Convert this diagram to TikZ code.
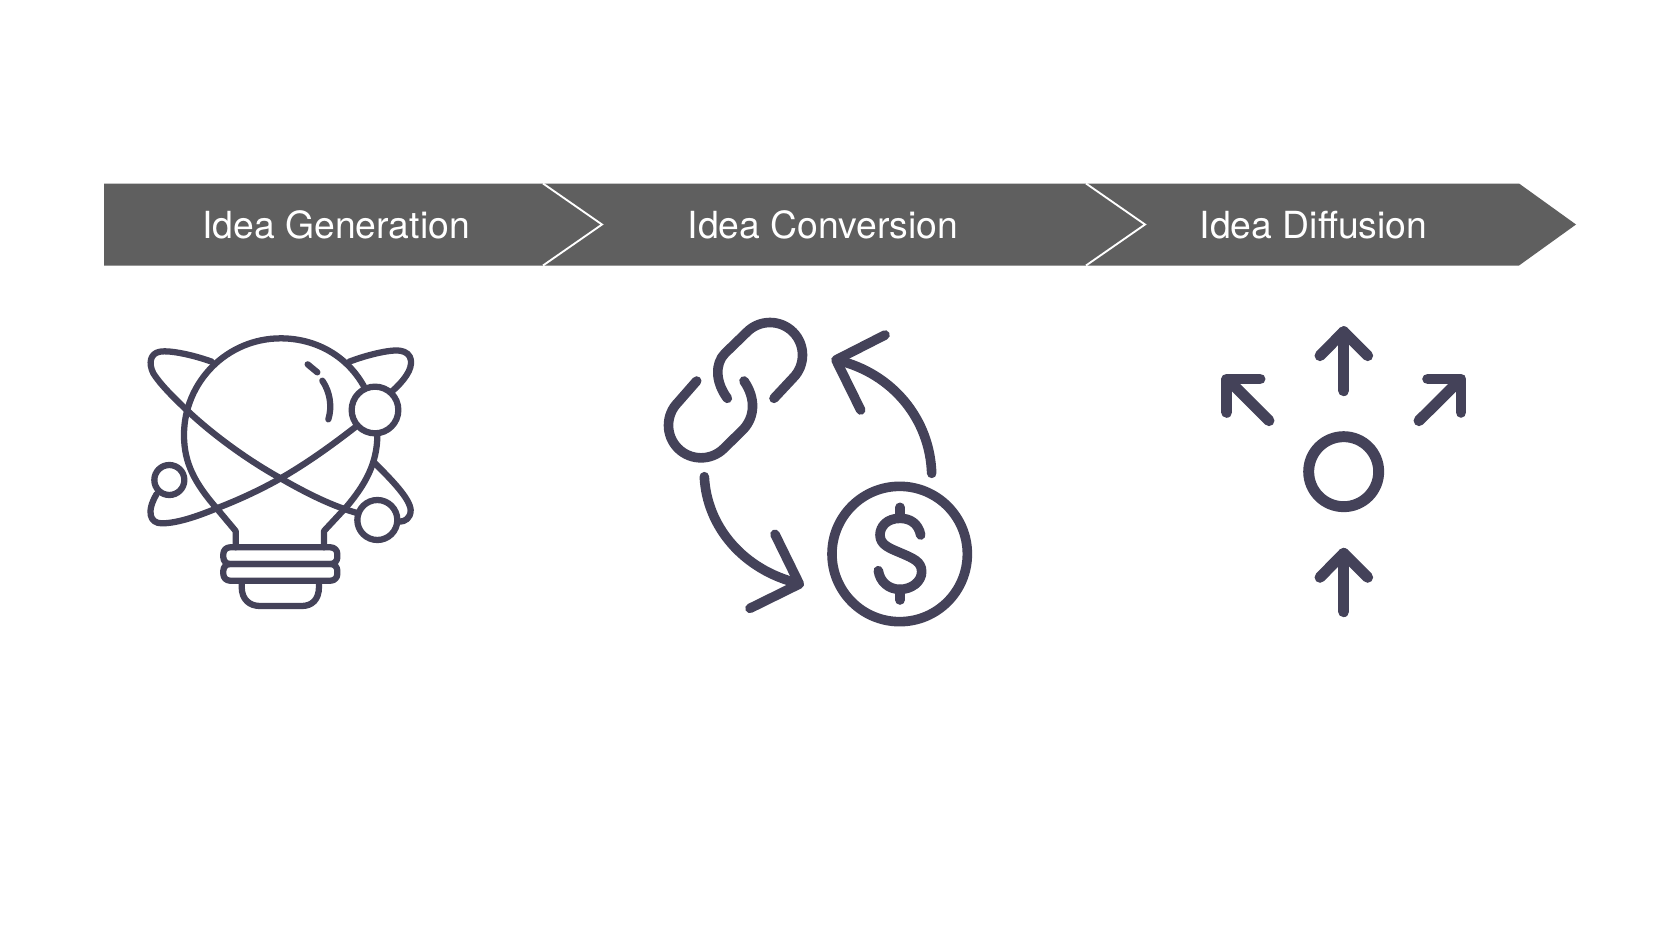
\documentclass[tikz,border=0pt]{standalone}
\usepackage{fontspec}
\setmainfont{TeX Gyre Heros}
\definecolor{iconc}{HTML}{444259}
\definecolor{bannerc}{HTML}{5F5F5F}
\tikzset{
  bar/.style={fill=bannerc,draw=none},
  sep/.style={draw=white,line width=1.4pt,line cap=butt,miter limit=10},
  lab/.style={text=white,font=\fontsize{28pt}{30pt}\selectfont,anchor=base,inner sep=0pt},
  ic/.style={draw=iconc,line cap=round,line join=round},
  zoomed/.style={x=.25pt,y=-.25pt},
}
\begin{document}
\begin{tikzpicture}[x=.75pt,y=-.75pt]
\useasboundingbox (0,0) rectangle (1680,945);
\fill[white] (0,0) rectangle (1680,945);
% banner
\path[bar] (104,183.5) -- (1519,183.5) -- (1576,224.5) -- (1519,265.5) -- (104,265.5) -- cycle;
\draw[sep] (543,183.5) -- (602,224.5) -- (543,265.5);
\draw[sep] (1086,183.5) -- (1145,224.5) -- (1086,265.5);
\node[lab] (gen) at (336,238) {Idea Generation};
\node[lab] (con) at (823,238) {Idea Conversion};
\node[lab] (dif) at (1313.5,238) {Idea Diffusion};
% light bulb
\begin{scope}[shift={(120,310)},zoomed,ic,line width=4.7pt]
  \draw (347,712) -- (347,663) -- (290,595) .. controls (225,520) and (192,460) .. (192,375)
        .. controls (192,215) and (322,85) .. (482,85) .. controls (590,85) and (685,140) .. (735,235);
  \draw (772,375) .. controls (772,460) and (735,525) .. (680,590) -- (612,663) -- (612,712);
  \draw[rounded corners=5pt] (310,712) rectangle (652,762);
  \draw[rounded corners=5pt] (310,762) rectangle (652,812);
  \draw (365,815) -- (365,830) .. controls (365,870) and (390,888) .. (420,888) -- (545,888)
        .. controls (575,888) and (597,870) .. (597,830) -- (597,815);
  \draw (563,163) -- (592,187);
  \draw (607,212) .. controls (630,245) and (637,290) .. (625,328);
  \draw (275,155) .. controls (220,135) and (150,120) .. (120,125) .. controls (90,130) and (85,160) .. (100,190)
        .. controls (120,222) and (160,262) .. (200,300) .. controls (290,385) and (400,460) .. (482,505)
        .. controls (560,550) and (640,590) .. (715,610);
  \draw (765,460) .. controls (810,505) and (870,565) .. (872,600) .. controls (872,625) and (855,635) .. (838,635);
  \draw (688,155) .. controls (740,135) and (810,118) .. (840,122) .. controls (880,128) and (880,165) .. (860,195)
        .. controls (847,215) and (832,230) .. (815,245);
  \draw (705,352) .. controls (630,410) and (560,460) .. (482,505) .. controls (420,540) and (355,570) .. (290,595)
        .. controls (230,620) and (170,640) .. (125,640) .. controls (90,640) and (78,605) .. (110,552);
  \draw (765,300) circle[radius=70];
  \draw (148,510) circle[radius=45];
  \draw (772,630) circle[radius=60];
\end{scope}
% link, arrows, coin
\begin{scope}[shift={(650,300)},zoomed,ic,line width=7.2pt]
  \draw (232,295) .. controls (195,245) and (195,190) .. (225,160) -- (291,96)
        .. controls (329,58) and (391,58) .. (429,96) .. controls (467,134) and (467,196) .. (429,234) -- (372,295);
  \draw (140,243) -- (84,307) .. controls (46,345) and (46,407) .. (84,445)
        .. controls (122,483) and (184,483) .. (222,445) -- (280,388) .. controls (315,350) and (318,295) .. (282,243);
  \draw (163,530) .. controls (170,680) and (280,810) .. (445,850);
  \draw (375,703) -- (448,852) -- (300,925);
  \draw (845,520) .. controls (840,360) and (730,220) .. (560,180);
  \draw (705,105) -- (558,180) -- (632,330);
  \draw (749,762) circle[radius=203];
  \draw (812,705) .. controls (805,670) and (780,655) .. (750,655) .. controls (710,655) and (690,680) .. (690,705)
        .. controls (690,735) and (720,745) .. (750,758) .. controls (790,775) and (815,785) .. (815,815)
        .. controls (815,845) and (785,868) .. (750,868) .. controls (715,868) and (690,845) .. (685,812);
  \draw (750,622) -- (750,655);
  \draw (750,868) -- (750,900);
\end{scope}
% diffusion
\begin{scope}[shift={(1200,310)},zoomed,ic,line width=8.2pt]
  \draw (431,242) -- (431,65);
  \draw (360,137) -- (431,65) -- (503,137);
  \draw (207,332) -- (85,210);
  \draw (180,207) -- (80,207) -- (80,307);
  \draw (657,332) -- (780,210);
  \draw (683,207) -- (783,207) -- (783,307);
  \draw (431,485) circle[radius=105];
  \draw (431,905) -- (431,730);
  \draw (360,802) -- (431,730) -- (503,802);
\end{scope}
\end{tikzpicture}
\end{document}
